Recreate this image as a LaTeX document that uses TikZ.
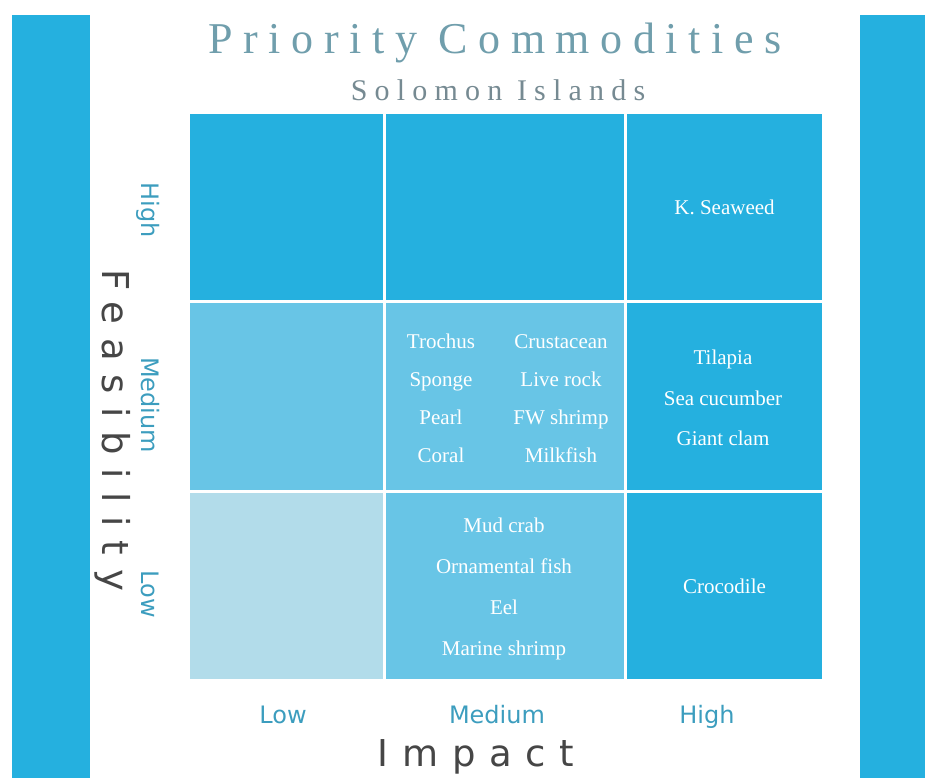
\documentclass[tikz,border=0pt]{standalone}
\usepackage{fontspec}
\setmainfont{Liberation Serif}
\newfontfamily\titlefont[LetterSpace=24]{Liberation Serif}
\newfontfamily\subfont[LetterSpace=24]{Liberation Serif}
\newfontfamily\levelfont{DejaVu Sans}
\newfontfamily\axisfont[LetterSpace=37]{DejaVu Sans}
\usepackage{tikz}
\usetikzlibrary{positioning}
\definecolor{banddark}{RGB}{37,176,223}
\definecolor{cellmid}{RGB}{104,197,230}
\definecolor{celllight}{RGB}{178,220,234}
\definecolor{titlegray}{RGB}{112,158,172}
\definecolor{subgray}{RGB}{118,138,146}
\definecolor{levelblue}{RGB}{60,157,190}
\definecolor{axisgray}{RGB}{70,70,70}
\tikzstyle{cellbox} = [rectangle, inner sep=0pt, draw=none, text=white, font=\fontsize{21}{24}\selectfont]
\tikzstyle{item} = [text=white, inner sep=1pt, text height=1.6ex, text depth=.4ex, font=\fontsize{21}{24}\selectfont]
\tikzstyle{levellabel} = [text=levelblue, text height=1.6ex, text depth=.4ex, font=\levelfont\fontsize{24}{28}\selectfont]
\tikzstyle{axislabel} = [text=axisgray, font=\axisfont\fontsize{37}{42}\selectfont]

\begin{document}
\begin{tikzpicture}
		[x=1pt, y=-1pt, node distance=38pt]
		\useasboundingbox (0,0) rectangle (925,778);
		\fill[banddark] (12,15) rectangle (90,778);
		\fill[banddark] (860,15) rectangle (925,778);
		
		\node[text=titlegray, font=\titlefont\fontsize{44}{48}\selectfont] (title) at (495,43) {Priority Commodities};
		\node[text=subgray, font=\subfont\fontsize{30}{34}\selectfont] (subtitle) at (498,90) {Solomon Islands};
		
		% matrix cells
		\node[cellbox, fill=banddark, minimum width=193pt, minimum height=186pt] (hilo) at (286.5,207) {};
		\node[cellbox, fill=banddark, minimum width=238pt, minimum height=186pt] (himid) at (505,207) {};
		\node[cellbox, fill=banddark, minimum width=195pt, minimum height=186pt] (hihi) at (724.5,207) {K. Seaweed};
		\node[cellbox, fill=cellmid, minimum width=193pt, minimum height=187pt] (medlo) at (286.5,396.5) {};
		\node[cellbox, fill=cellmid, minimum width=238pt, minimum height=187pt] (medmid) at (505,396.5) {};
		\node[cellbox, fill=banddark, minimum width=195pt, minimum height=187pt] (medhi) at (724.5,396.5) {};
		\node[cellbox, fill=celllight, minimum width=193pt, minimum height=186pt] (lolo) at (286.5,586) {};
		\node[cellbox, fill=cellmid, minimum width=238pt, minimum height=186pt] (lomid) at (505,586) {};
		\node[cellbox, fill=banddark, minimum width=195pt, minimum height=186pt] (lohi) at (724.5,586) {Crocodile};
		
		% medium feasibility, medium impact
		\node[item] (trochus) at (441,346) {Trochus};
		\node[item, below of=trochus] (sponge) {Sponge};
		\node[item, below of=sponge] (pearl) {Pearl};
		\node[item, below of=pearl] (coral) {Coral};
		\node[item] (crustacean) at (561,346) {Crustacean};
		\node[item, below of=crustacean] (liverock) {Live rock};
		\node[item, below of=liverock] (fwshrimp) {FW shrimp};
		\node[item, below of=fwshrimp] (milkfish) {Milkfish};
		
		% medium feasibility, high impact
		\node[item] (tilapia) at (723,362) {Tilapia};
		\node[item, below of=tilapia, node distance=41pt] (seacucumber) {Sea cucumber};
		\node[item, below of=seacucumber, node distance=40pt] (giantclam) {Giant clam};
		
		% low feasibility, medium impact
		\node[item] (mudcrab) at (504,530) {Mud crab};
		\node[item, below of=mudcrab, node distance=41pt] (ornfish) {Ornamental fish};
		\node[item, below of=ornfish, node distance=41pt] (eel) {Eel};
		\node[item, below of=eel, node distance=41pt] (marineshrimp) {Marine shrimp};
		
		% axes
		\node[levellabel, rotate=-90] (fhigh) at (144,210) {High};
		\node[levellabel, rotate=-90] (fmed) at (144,405) {Medium};
		\node[levellabel, rotate=-90] (flow) at (144,594) {Low};
		\node[levellabel] (ilow) at (283,721) {Low};
		\node[levellabel] (imed) at (497,721) {Medium};
		\node[levellabel] (ihigh) at (707,721) {High};
		\node[axislabel, rotate=-90] (feas) at (113,430) {Feasibility};
		\node[axislabel] (impact) at (476,757) {Impact};
		\end{tikzpicture}
\end{document}
